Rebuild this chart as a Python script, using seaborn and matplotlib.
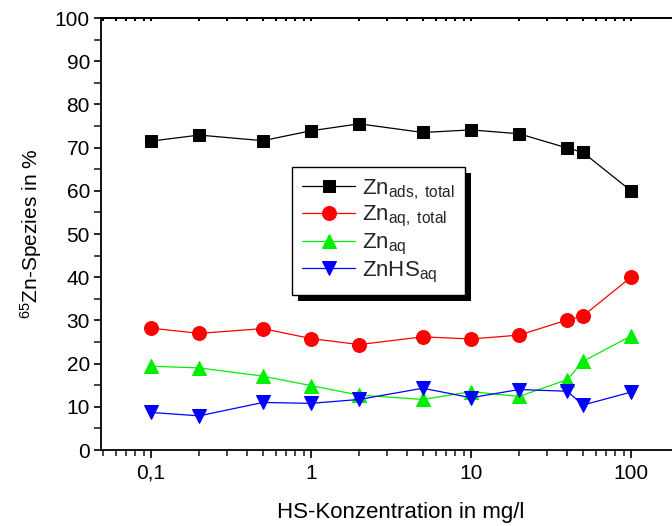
import numpy as np
import pandas as pd
import matplotlib
matplotlib.use("Agg")
import matplotlib.pyplot as plt
import seaborn as sns
from matplotlib.patches import Rectangle
from matplotlib.transforms import IdentityTransform
from matplotlib.ticker import FixedLocator, NullFormatter

# ---- data ----
conc = [0.1, 0.2, 0.5, 1, 2, 5, 10, 20, 40, 50, 100]
zn_ads_total = [71.5, 72.9, 71.6, 73.9, 75.5, 73.5, 74.1, 73.2, 69.9, 68.9, 60.0]
zn_aq_total = [28.2, 27.0, 28.1, 25.8, 24.4, 26.2, 25.7, 26.6, 30.1, 31.0, 40.0]
zn_aq = [19.4, 19.0, 17.1, 14.9, 12.7, 11.7, 13.5, 12.4, 16.3, 20.5, 26.4]
znhs_aq = [8.7, 7.9, 11.0, 10.8, 11.7, 14.3, 12.1, 14.0, 13.6, 10.4, 13.4]
labels = [r"Zn$_{\mathregular{ads,\ total}}$", r"Zn$_{\mathregular{aq,\ total}}$",
          r"Zn$_{\mathregular{aq}}$", r"ZnHS$_{\mathregular{aq}}$"]
x_ticks = [0.1, 1, 10, 100]
x_ticklabels = ["0,1", "1", "10", "100"]
y_ticks = list(range(0, 101, 10))

sns.set_theme(style="white")
plt.rcParams['font.family'] = ['Liberation Sans', 'DejaVu Sans']
plt.rcParams['mathtext.fontset'] = 'custom'
plt.rcParams['mathtext.rm'] = 'Liberation Sans'
plt.rcParams['mathtext.it'] = 'Liberation Sans:italic'
plt.rcParams['mathtext.bf'] = 'Liberation Sans:bold'

fig = plt.figure(figsize=(6.72, 5.26), dpi=100)
ax = fig.add_axes([101/672, 1-450/526, (700-101)/672, (450-18)/526])

series = [
    (zn_ads_total, "black", "s", 8.5),
    (zn_aq_total, "#ff0000", "o", 10),
    (zn_aq, "#00ee00", "^", 10.5),
    (znhs_aq, "#0000ff", "v", 10.5),
]
for (vals, col, mk, ms), lab in zip(series, labels):
    df = pd.DataFrame({"x": conc, "y": vals})
    sns.lineplot(data=df, x="x", y="y", ax=ax, color=col, marker=mk,
                 markersize=ms, markeredgecolor=col, linewidth=0.9,
                 label=lab)

ax.set_xscale("log")
ax.set_xlim(10**((101-311)/160), 10**((700-311)/160))
ax.set_ylim(0, 100)
ax.xaxis.set_major_locator(FixedLocator(x_ticks))
ax.set_xticklabels(x_ticklabels)
minors = [m * 10.0**e for e in range(-2, 3) for m in range(2, 10)]
ax.xaxis.set_minor_locator(FixedLocator(minors))
ax.xaxis.set_minor_formatter(NullFormatter())
ax.set_yticks(y_ticks)
ax.yaxis.set_minor_locator(FixedLocator(list(range(5, 100, 10))))

for s in ["left", "bottom", "top"]:
    ax.spines[s].set_visible(True)
    ax.spines[s].set_color("black")
    ax.spines[s].set_linewidth(1.3)
ax.spines["right"].set_visible(False)

ax.tick_params(axis="x", which="major", direction="out", length=6, width=1.2,
               labelsize=15, colors="black", bottom=True, pad=4)
ax.tick_params(axis="x", which="minor", direction="out", length=4, width=1.2,
               bottom=True)
ax.tick_params(axis="x", which="both", top=False, labeltop=False)
ax.tick_params(axis="y", which="major", direction="out", length=5, width=1.2,
               labelsize=15, colors="black", left=True, pad=3)
ax.tick_params(axis="y", which="minor", direction="out", length=5, width=1.2,
               left=True)

# tiny inward marks on the top frame line
sec = ax.secondary_xaxis("top")
sec.xaxis.set_major_locator(FixedLocator(x_ticks))
sec.xaxis.set_minor_locator(FixedLocator(minors))
sec.xaxis.set_major_formatter(NullFormatter())
sec.xaxis.set_minor_formatter(NullFormatter())
sec.tick_params(which="both", direction="in", length=2, width=1.5, colors="black")
sec.spines["top"].set_linewidth(1.3)

ax.set_xlabel("HS-Konzentration in mg/l", fontsize=16, labelpad=14, color="black")
ax.set_ylabel(r"$^{\mathregular{65}}$Zn-Spezies in %", fontsize=15, labelpad=8, color="black")

leg = ax.legend(loc="upper left", bbox_to_anchor=((292-101)/599, (450-167)/432),
                fontsize=16, frameon=True, fancybox=False, edgecolor="black",
                framealpha=1, handlelength=2.4, handletextpad=0.3,
                labelspacing=0.12, borderpad=0.45, borderaxespad=0)
leg.get_frame().set_linewidth(1.0)
leg.set_zorder(6)

fig.canvas.draw()
bb = leg.get_window_extent()
off = 6
ax.add_artist(Rectangle((bb.x0 + off, bb.y0 - off), bb.width, bb.height,
                        transform=IdentityTransform(), facecolor="black",
                        edgecolor="none", zorder=5.5))

fig.savefig("out.png", dpi=100)
